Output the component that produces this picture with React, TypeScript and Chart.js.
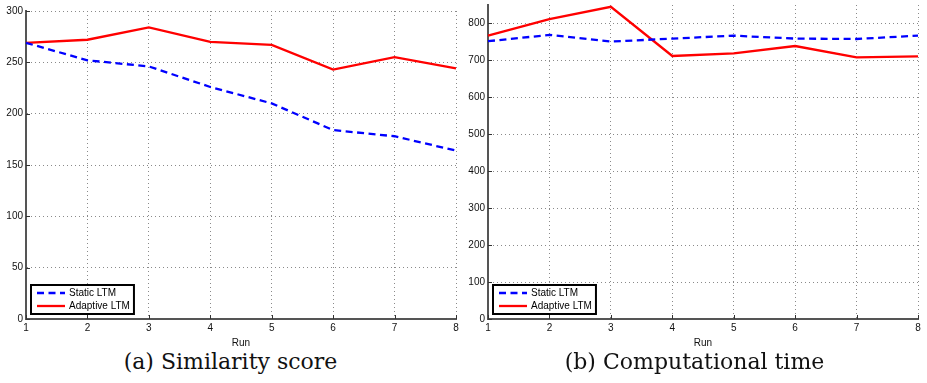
import React, { useEffect, useRef } from 'react';
import { Chart, registerables } from 'chart.js';

Chart.register(...registerables);

const runs = ['1', '2', '3', '4', '5', '6', '7', '8'];
const seriesLabels = ['Static LTM', 'Adaptive LTM'];
const similarityStatic = [269, 252, 246, 226, 210, 184, 178, 164];
const similarityAdaptive = [269, 272, 284, 270, 267, 243, 255, 244];
const timeStatic = [752, 769, 751, 759, 767, 759, 758, 767];
const timeAdaptive = [767, 812, 845, 712, 719, 739, 708, 711];
const similarityAxis = { min: 0, max: 300, step: 50 };
const timeAxis = { min: 0, max: 850, step: 100 };
const captions = ['(a) Similarity score', '(b) Computational time'];
const xTitle = 'Run';

const TICK_FONT = { family: '"Liberation Sans", Arial, Helvetica, sans-serif', size: 10 };
const AXIS_COLOR = '#555555';
const GRID_COLOR = '#8a8a8a';

const matlabPlugin = {
  id: 'matlabDecor',
  afterDraw(chart: any) {
    const { ctx, chartArea } = chart;
    const xs = chart.scales.x;
    const ys = chart.scales.y;
    ctx.save();
    // inward tick marks
    ctx.strokeStyle = '#333';
    ctx.lineWidth = 1;
    xs.ticks.forEach((_t: any, i: number) => {
      const px = Math.round(xs.getPixelForTick(i)) + 0.5;
      ctx.beginPath();
      ctx.moveTo(px, chartArea.bottom);
      ctx.lineTo(px, chartArea.bottom - 4);
      ctx.stroke();
    });
    ys.ticks.forEach((_t: any, i: number) => {
      const py = Math.round(ys.getPixelForTick(i)) + 0.5;
      ctx.beginPath();
      ctx.moveTo(chartArea.left, py);
      ctx.lineTo(chartArea.left + 4, py);
      ctx.stroke();
    });
    // legend box
    ctx.font = `${TICK_FONT.size}px ${TICK_FONT.family}`;
    const ds = chart.data.datasets;
    let maxW = 0;
    ds.forEach((d: any) => { maxW = Math.max(maxW, ctx.measureText(d.label).width); });
    const bx = chartArea.left + 5;
    const bh = 29;
    const by = chartArea.bottom - 5 - bh;
    const bw = 38 + maxW + 4;
    ctx.fillStyle = '#ffffff';
    ctx.fillRect(bx, by, bw, bh);
    ctx.strokeStyle = '#000';
    ctx.lineWidth = 2;
    ctx.strokeRect(bx, by, bw, bh);
    ds.forEach((d: any, i: number) => {
      const ly = by + 8 + i * 13;
      ctx.strokeStyle = d.borderColor;
      ctx.lineWidth = d.borderWidth;
      ctx.setLineDash(d.borderDash || []);
      ctx.beginPath();
      ctx.moveTo(bx + 6, ly);
      ctx.lineTo(bx + 34, ly);
      ctx.stroke();
      ctx.setLineDash([]);
      ctx.fillStyle = '#000';
      ctx.textBaseline = 'middle';
      ctx.textAlign = 'left';
      ctx.fillText(d.label, bx + 38, ly + 0.5);
    });
    ctx.restore();
  },
};

function makeConfig(staticVals: number[], adaptiveVals: number[], axis: any, topPad: number) {
  return {
    type: 'line' as const,
    data: {
      labels: runs,
      datasets: [
        {
          label: seriesLabels[0],
          data: staticVals,
          borderColor: '#0000ff',
          borderWidth: 2.3,
          borderDash: [7, 4.5],
          pointRadius: 0,
          tension: 0,
          fill: false,
        },
        {
          label: seriesLabels[1],
          data: adaptiveVals,
          borderColor: '#ff0000',
          borderWidth: 2.3,
          pointRadius: 0,
          tension: 0,
          fill: false,
        },
      ],
    },
    options: {
      animation: false,
      responsive: false,
      maintainAspectRatio: false,
      layout: { padding: { left: 0, right: 9, top: topPad, bottom: 0 } },
      plugins: { legend: { display: false }, tooltip: { enabled: false }, title: { display: false } },
      scales: {
        x: {
          type: 'category',
          offset: false,
          grid: {
            color: (c: any) => (c.index === 0 ? 'rgba(0,0,0,0)' : GRID_COLOR),
            lineWidth: 1,
            drawTicks: false,
          },
          border: { display: true, color: AXIS_COLOR, width: 2, dash: [1, 3] },
          ticks: { font: TICK_FONT, color: '#111', padding: 3, maxRotation: 0, autoSkip: false },
          title: { display: true, text: xTitle, font: TICK_FONT, color: '#111', padding: { top: 0, bottom: 0 } },
          afterFit(scale: any) {
            scale.height = 30;
            scale.paddingLeft = 0;
            scale.paddingRight = 0;
          },
        },
        y: {
          type: 'linear',
          min: axis.min,
          max: axis.max,
          ticks: { stepSize: axis.step, includeBounds: false, font: TICK_FONT, color: '#111', padding: 3 },
          grid: {
            color: (c: any) => (c.tick && c.tick.value === axis.min ? 'rgba(0,0,0,0)' : GRID_COLOR),
            lineWidth: 1,
            drawTicks: false,
          },
          border: { display: true, color: AXIS_COLOR, width: 2, dash: [1, 3] },
          afterFit(scale: any) {
            scale.width = 26;
            scale.paddingTop = 0;
            scale.paddingBottom = 0;
          },
        },
      },
    },
    plugins: [matlabPlugin],
  };
}

function LineChart({ config, left }: { config: any; left: number }) {
  const ref = useRef<HTMLCanvasElement | null>(null);
  useEffect(() => {
    if (!ref.current) return;
    const chart = new Chart(ref.current, config);
    return () => chart.destroy();
  }, [config]);
  return (
    <canvas
      ref={ref}
      width={465}
      height={349}
      style={{ position: 'absolute', left, top: 0, width: 465, height: 349 }}
    />
  );
}

const leftConfig = makeConfig(similarityStatic, similarityAdaptive, similarityAxis, 11);
const rightConfig = makeConfig(timeStatic, timeAdaptive, timeAxis, 5);

export default function App() {
  const capStyle: React.CSSProperties = {
    position: 'absolute',
    top: 349,
    width: 465,
    textAlign: 'center',
    fontFamily: '"DejaVu Serif", serif',
    fontSize: 22,
    lineHeight: '26px',
    color: '#111',
    whiteSpace: 'nowrap',
  };
  return (
    <div style={{ position: 'absolute', left: 0, top: 0, width: 927, height: 383, background: '#fff', overflow: 'hidden' }}>
      <LineChart config={leftConfig} left={0} />
      <LineChart config={rightConfig} left={462} />
      <div style={{ ...capStyle, left: -2 }}>{captions[0]}</div>
      <div style={{ ...capStyle, left: 462 }}>{captions[1]}</div>
    </div>
  );
}
